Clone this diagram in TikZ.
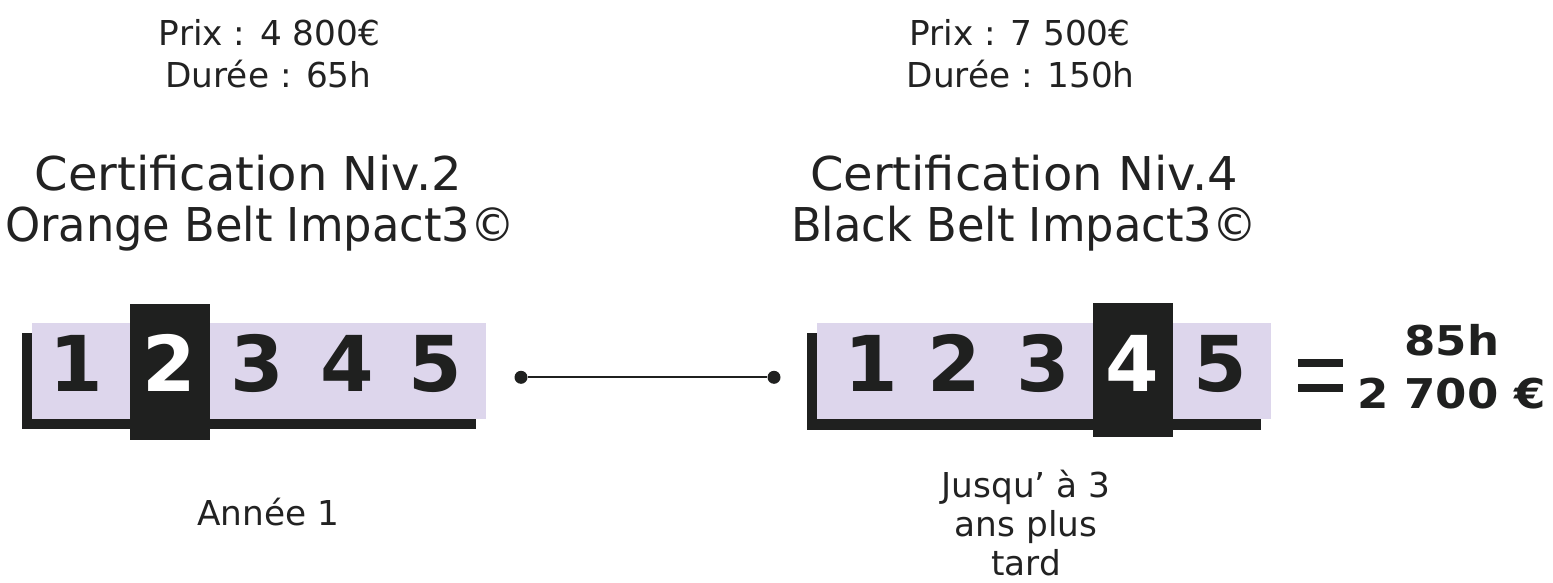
\documentclass[tikz,border=0pt]{standalone}
\usepackage{fontspec}
\setmainfont{DejaVu Sans}
\definecolor{lav}{RGB}{221,214,236}
\definecolor{ink}{RGB}{31,32,31}
\definecolor{txt}{RGB}{34,34,34}
\begin{document}
\begin{tikzpicture}[x=1pt,y=-1pt,
  lbl/.style={anchor=base,inner sep=0pt,text=txt,font=\fontsize{34.3}{41}\selectfont},
  ttl/.style={anchor=base,inner sep=0pt,text=txt,font=\fontsize{46.6}{51}\selectfont},
  digit/.style={anchor=base,inner sep=0pt,text=ink,font=\fontsize{77}{80}\selectfont\bfseries},
  hidigit/.style={digit,text=white},
  total/.style={anchor=base,inner sep=0pt,text=ink,font=\fontsize{41}{44}\selectfont\bfseries},
  dot/.style={circle,fill=ink,inner sep=0pt,minimum size=13pt},
  link/.style={draw=ink,line width=2.2pt}
]
\fill[white] (0,0) rectangle (1553,583);
\useasboundingbox (0,0) rectangle (1553,583);

% top labels
\node[lbl] (prixA) at (269.5,46) {Prix : 4 800€};
\node[lbl] (dureeA) at (268.5,87.3) {Durée : 65h};
\node[lbl] (prixB) at (1020,46) {Prix : 7 500€};
\node[lbl] (dureeB) at (1020.7,87.3) {Durée : 150h};

% titles
\node[ttl] (titleA1) at (248.5,190.7) {\scalebox{1.03}[1]{Certification Niv.2}};
\node[ttl] (titleA2) at (260,241.7) {\scalebox{0.96}[1]{Orange Belt Impact3©}};
\node[ttl] (titleB1) at (1024,190.7) {\scalebox{1.03}[1]{Certification Niv.4}};
\node[ttl] (titleB2) at (1024,241.7) {\scalebox{0.96}[1]{Black Belt Impact3©}};

% left block
\fill[ink] (22,332.7) rectangle (476,428.7);
\fill[lav] (32,323) rectangle (486,418.7);
\fill[ink] (130,304) rectangle (210,440);
\node[digit] (a1) at (76,391.7) {1};
\node[hidigit] (a2) at (169,391.7) {2};
\node[digit] (a3) at (257.5,391.7) {3};
\node[digit] (a4) at (347,391.7) {4};
\node[digit] (a5) at (435,391.7) {5};

% right block
\fill[ink] (806.7,333) rectangle (1261,430);
\fill[lav] (816.7,323) rectangle (1271,418.7);
\fill[ink] (1093,303) rectangle (1172.7,437);
\node[digit] (b1) at (871.7,391.7) {1};
\node[digit] (b2) at (954,391.7) {2};
\node[digit] (b3) at (1043,391.7) {3};
\node[hidigit] (b4) at (1132.5,391.7) {4};
\node[digit] (b5) at (1220,391.7) {5};

% connector
\node[dot] (dotL) at (521,377.3) {};
\node[dot] (dotR) at (774,377.3) {};
\draw[link] (dotL) -- (dotR);

% equals and totals
\fill[ink] (1297.7,359.3) rectangle (1343,366.7);
\fill[ink] (1297.7,384) rectangle (1343,391.7);
\node[total] (hours) at (1451.7,355) {\scalebox{1.1}[1]{85h}};
\node[total] (cost) at (1451.5,408.3) {\scalebox{1.1}[1]{2 700 €}};

% bottom labels
\node[lbl] (anneeA) at (268.4,525) {Année 1};
\node[lbl] (laterB1) at (1026,497) {Jusqu’ à 3};
\node[lbl] (laterB2) at (1026,536.5) {ans plus};
\node[lbl] (laterB3) at (1026,575.5) {tard};
\end{tikzpicture}
\end{document}
